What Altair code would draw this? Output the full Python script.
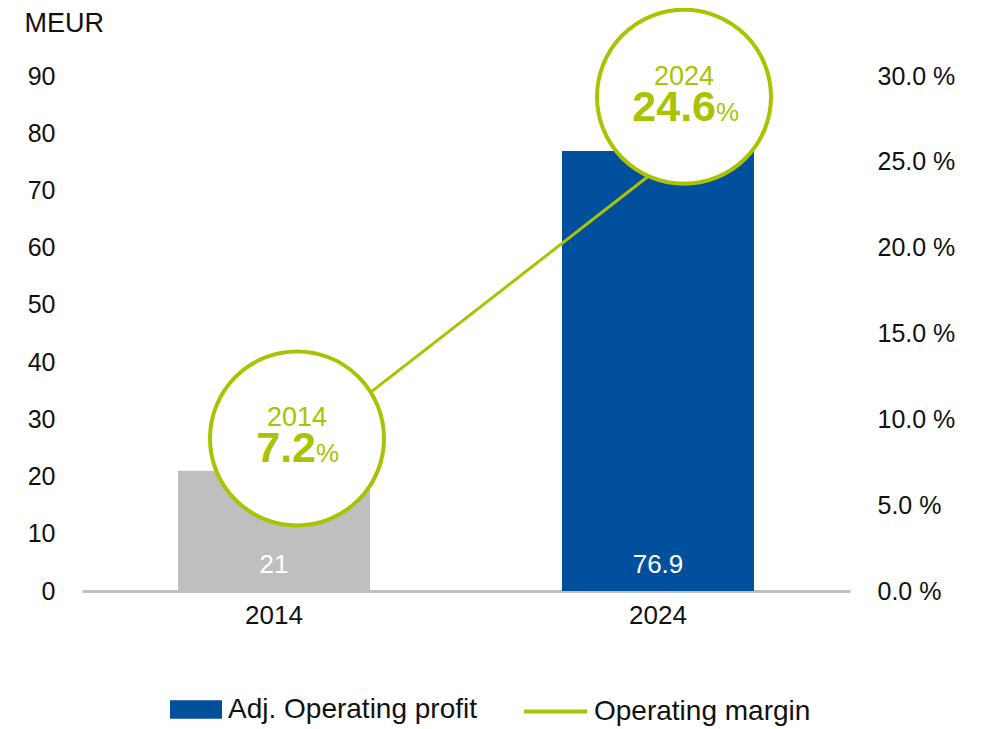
import altair as alt
import pandas as pd

years = ["2014", "2024"]
profit = [21, 76.9]
margin = [7.2, 24.6]
bar_labels = ["21", "76.9"]
margin_labels = ["7.2", "24.6"]

BLUE = "#00509E"
GREY = "#BFBFBF"
LIME = "#AAC300"
INK = "#111111"
FONT = "Liberation Sans"

df = pd.DataFrame({
    "year": years,
    "profit": profit,
    "margin": margin,
    "bar_label": bar_labels,
    "margin_label": margin_labels,
    "series_line": ["Operating margin"] * len(years),
    "zero": [0] * len(years),
})

x = alt.X("year:N",
          scale=alt.Scale(paddingInner=0.5, paddingOuter=0.25),
          axis=alt.Axis(title=None, labelAngle=0, domainColor=GREY, domainWidth=3,
                        ticks=False, labelPadding=11, labelFontSize=26,
                        labelColor=INK, labelFont=FONT))


def yl(field):
    return alt.Y(field, scale=alt.Scale(domain=[0, 90]),
                 axis=alt.Axis(values=list(range(0, 91, 10)), title="MEUR", titleAngle=0,
                               titleAlign="left", titleBaseline="top", titleX=-58, titleY=-66,
                               titleFontSize=27, titleFontWeight="normal", titleFont=FONT,
                               titleColor=INK,
                               labelFontSize=25, labelPadding=27, labelFont=FONT,
                               labelColor=INK,
                               domain=False, ticks=False, grid=False))


def yr(field):
    return alt.Y(field, scale=alt.Scale(domain=[0, 30]),
                 axis=alt.Axis(orient="right", values=list(range(0, 31, 5)),
                               labelExpr="format(datum.value, '.1f') + ' %'",
                               title=None, labelFontSize=25, labelPadding=27, labelFont=FONT,
                               labelColor=INK,
                               domain=False, ticks=False, grid=False))


base = alt.Chart(df)

bars = base.mark_bar().encode(
    x=x, y=yl("profit:Q"),
    fill=alt.Fill("year:N", scale=alt.Scale(domain=years, range=[GREY, BLUE]),
                  legend=alt.Legend(values=["2024"], labelExpr="'Adj. Operating profit'",
                                    title=None, orient="none", legendX=77, legendY=602,
                                    symbolType="M-0.65,-0.29L1,-0.29L1,0.29L-0.65,0.29Z",
                                    symbolSize=3969, symbolStrokeWidth=0, symbolOpacity=1,
                                    labelOffset=6)),
)

bar_text = base.mark_text(color="white", fontSize=26, font=FONT, baseline="alphabetic",
                          dy=-18).encode(x=x, y=yl("zero:Q"), text="bar_label:N")

line = base.mark_line(strokeWidth=3).encode(
    x=x, y=yr("margin:Q"),
    stroke=alt.Stroke("series_line:N", scale=alt.Scale(range=[LIME]),
                      legend=alt.Legend(title=None, orient="none", legendX=440, legendY=602,
                                        symbolType="stroke", symbolSize=3969,
                                        symbolStrokeWidth=4, labelOffset=5)),
)


def circle_layers(year, cdx, cdy, junction):
    b = base.transform_filter(alt.datum.year == year)
    circ = b.mark_point(shape="circle", size=30276, filled=True, fill="white", stroke=LIME,
                        strokeWidth=4, opacity=1, xOffset=cdx, yOffset=cdy).encode(
        x=x, y=yr("margin:Q"))
    yr_txt = b.mark_text(color=LIME, fontSize=27, font=FONT, align="center",
                         baseline="alphabetic", dx=cdx, dy=cdy - 12).encode(
        x=x, y=yr("margin:Q"), text="year:N")
    num = b.mark_text(color=LIME, fontSize=43, font=FONT, fontWeight="bold", align="right",
                      baseline="alphabetic", dx=cdx + junction, dy=cdy + 24).encode(
        x=x, y=yr("margin:Q"), text="margin_label:N")
    pct = b.mark_text(color=LIME, fontSize=26, font=FONT, align="left",
                      baseline="alphabetic", dx=cdx + junction, dy=cdy + 24, text="%").encode(
        x=x, y=yr("margin:Q"))
    return [circ, yr_txt, num, pct]


right = alt.layer(line, *circle_layers("2014", 23, -29, 19),
                  *circle_layers("2024", 26, -72, 32))
left = alt.layer(bars, bar_text)

chart = alt.layer(left, right).resolve_scale(y="independent").properties(
    width=768, height=515,
    autosize=alt.AutoSizeParams(type="none"),
    padding={"left": 74, "top": 68, "right": 120, "bottom": 142},
).configure_view(stroke=None).configure_legend(
    direction="horizontal", labelFontSize=28, labelFont=FONT,
    labelColor=INK, labelLimit=0, padding=0,
)

chart.save("out.html", embed_options={"renderer": "svg", "actions": False})
